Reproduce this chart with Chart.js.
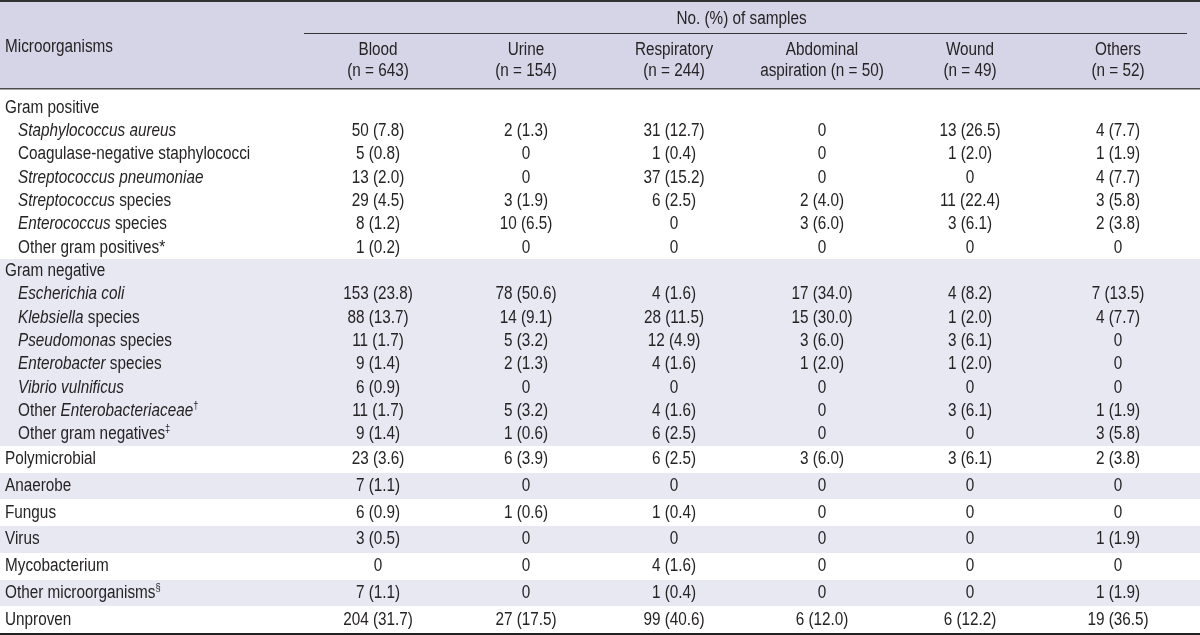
<!DOCTYPE html>
<html lang="en">
<head>
  <meta charset="UTF-8">
  <title>Microorganisms by sample type</title>
  <script src="https://cdn.jsdelivr.net/npm/chart.js"></script>
  <style>
    html, body {
      margin: 0;
      padding: 0;
      background: #ffffff;
    }

    #wrap {
      width: 1200px;
      height: 635px;
    }
  </style>
</head>
<body>

  <div id="wrap">
    <canvas id="tbl" width="1200" height="635"></canvas>
  </div>

  <script>
    // columns of the table (first one holds the row labels)
    const columns = ['label', 'blood', 'urine', 'respiratory', 'abdominal', 'wound', 'others'];
    const spanHeader = 'No. (%) of samples';
    const headerLine1 = ['Blood', 'Urine', 'Respiratory', 'Abdominal', 'Wound', 'Others'];
    const headerLine2 = ['(n = 643)', '(n = 154)', '(n = 244)', 'aspiration (n = 50)', '(n = 49)', '(n = 52)'];

    // _text_ = italic, ^text = superscript
    const rowLabels = [
      'Gram positive',
      '_Staphylococcus aureus_',
      'Coagulase-negative staphylococci',
      '_Streptococcus pneumoniae_',
      '_Streptococcus_ species',
      '_Enterococcus_ species',
      'Other gram positives*',
      'Gram negative',
      '_Escherichia coli_',
      '_Klebsiella_ species',
      '_Pseudomonas_ species',
      '_Enterobacter_ species',
      '_Vibrio vulnificus_',
      'Other _Enterobacteriaceae_^†',
      'Other gram negatives^‡',
      'Polymicrobial',
      'Anaerobe',
      'Fungus',
      'Virus',
      'Mycobacterium',
      'Other microorganisms^§',
      'Unproven'
    ];
    const rowKind = [
      'group', 'item', 'item', 'item', 'item', 'item', 'item',
      'group', 'item', 'item', 'item', 'item', 'item', 'item', 'item',
      'single', 'single', 'single', 'single', 'single', 'single', 'single'
    ];

    const blood = [null, '50 (7.8)', '5 (0.8)', '13 (2.0)', '29 (4.5)', '8 (1.2)', '1 (0.2)',
      null, '153 (23.8)', '88 (13.7)', '11 (1.7)', '9 (1.4)', '6 (0.9)', '11 (1.7)', '9 (1.4)',
      '23 (3.6)', '7 (1.1)', '6 (0.9)', '3 (0.5)', '0', '7 (1.1)', '204 (31.7)'];
    const urine = [null, '2 (1.3)', '0', '0', '3 (1.9)', '10 (6.5)', '0',
      null, '78 (50.6)', '14 (9.1)', '5 (3.2)', '2 (1.3)', '0', '5 (3.2)', '1 (0.6)',
      '6 (3.9)', '0', '1 (0.6)', '0', '0', '0', '27 (17.5)'];
    const respiratory = [null, '31 (12.7)', '1 (0.4)', '37 (15.2)', '6 (2.5)', '0', '0',
      null, '4 (1.6)', '28 (11.5)', '12 (4.9)', '4 (1.6)', '0', '4 (1.6)', '6 (2.5)',
      '6 (2.5)', '0', '1 (0.4)', '0', '4 (1.6)', '1 (0.4)', '99 (40.6)'];
    const abdominal = [null, '0', '0', '0', '2 (4.0)', '3 (6.0)', '0',
      null, '17 (34.0)', '15 (30.0)', '3 (6.0)', '1 (2.0)', '0', '0', '0',
      '3 (6.0)', '0', '0', '0', '0', '0', '6 (12.0)'];
    const wound = [null, '13 (26.5)', '1 (2.0)', '0', '11 (22.4)', '3 (6.1)', '0',
      null, '4 (8.2)', '1 (2.0)', '3 (6.1)', '1 (2.0)', '0', '3 (6.1)', '0',
      '3 (6.1)', '0', '0', '0', '0', '0', '6 (12.2)'];
    const others = [null, '4 (7.7)', '1 (1.9)', '4 (7.7)', '3 (5.8)', '2 (3.8)', '0',
      null, '7 (13.5)', '4 (7.7)', '0', '0', '0', '1 (1.9)', '3 (5.8)',
      '2 (3.8)', '0', '0', '1 (1.9)', '0', '1 (1.9)', '19 (36.5)'];

    const seriesByColumn = [blood, urine, respiratory, abdominal, wound, others];

    // no narrow face installed, so squeeze a regular sans horizontally
    const FONT = '"Liberation Sans", Arial, sans-serif';
    const SIZE = 18;
    const SUP_SIZE = 11;
    const SX = 0.85;
    const TEXT = '#262324';
    const HEADER_BG = '#d6d5e8';
    const BAND_BG = '#e8e8f3';

    // row extents in y-scale units (single rows are a bit taller)
    const rowStart = [];
    const rowEnd = [];
    let acc = 0.3;
    rowKind.forEach(k => {
      const h = k === 'single' ? 1.145 : 1;
      rowStart.push(acc);
      acc += h;
      rowEnd.push(acc);
    });
    const totalUnits = acc;

    // alternate shading by block (a group with its items, or a single row)
    const blocks = [];
    rowKind.forEach((k, i) => {
      if (k !== 'item') blocks.push({ first: i, last: i });
      else blocks[blocks.length - 1].last = i;
    });

    function parseRich(s) {
      const segs = [];
      let italic = false, sup = false, buf = '';
      for (const ch of s) {
        if (ch === '_' || ch === '^') {
          if (buf) segs.push({ text: buf, italic, sup });
          buf = '';
          if (ch === '_') italic = !italic; else sup = true;
        } else {
          buf += ch;
        }
      }
      if (buf) segs.push({ text: buf, italic, sup });
      return segs;
    }

    function squeezedText(ctx, text, x, y) {
      ctx.save();
      ctx.translate(x, y);
      ctx.scale(SX, 1);
      ctx.fillText(text, 0, 0);
      ctx.restore();
    }

    function drawRich(ctx, s, x, y) {
      ctx.textAlign = 'left';
      parseRich(s).forEach(seg => {
        ctx.font = (seg.italic ? 'italic ' : '') + (seg.sup ? SUP_SIZE : SIZE) + 'px ' + FONT;
        squeezedText(ctx, seg.text, x, seg.sup ? y - 5 : y);
        x += ctx.measureText(seg.text).width * SX;
      });
    }

    const tablePlugin = {
      id: 'tablePlugin',
      beforeDraw(chart) {
        const { ctx, width } = chart;
        const y = chart.scales.y;
        ctx.save();
        ctx.fillStyle = HEADER_BG;
        ctx.fillRect(0, 0, width, y.top);
        ctx.fillStyle = BAND_BG;
        blocks.forEach((b, n) => {
          if (n % 2 === 0) return;
          const top = Math.round(y.getPixelForValue(rowStart[b.first]));
          const bottom = Math.round(y.getPixelForValue(rowEnd[b.last]));
          ctx.fillRect(0, top, width, bottom - top);
        });
        ctx.restore();
      },
      afterDraw(chart) {
        const { ctx, width } = chart;
        const x = chart.scales.x;
        const y = chart.scales.y;
        ctx.save();
        ctx.fillStyle = TEXT;
        ctx.textBaseline = 'middle';

        // header
        drawRich(ctx, 'Microorganisms', 5, 47);
        ctx.font = SIZE + 'px ' + FONT;
        ctx.textAlign = 'center';
        const spanLeft = (x.getPixelForValue(0) + x.getPixelForValue(1)) / 2;
        const spanRight = x.right - 5;
        squeezedText(ctx, spanHeader, (spanLeft + spanRight) / 2 - 4, 19);
        headerLine1.forEach((t, i) => {
          const cx = x.getPixelForValue(i + 1);
          squeezedText(ctx, t, cx, 50);
          squeezedText(ctx, headerLine2[i], cx, 71);
        });

        // body
        rowLabels.forEach((label, i) => {
          const cy = y.getPixelForValue((rowStart[i] + rowEnd[i]) / 2);
          drawRich(ctx, label, rowKind[i] === 'item' ? 18 : 5, cy);
          ctx.font = SIZE + 'px ' + FONT;
          ctx.textAlign = 'center';
          seriesByColumn.forEach((series, c) => {
            if (series[i] == null) return;
            squeezedText(ctx, series[i], x.getPixelForValue(c + 1), cy);
          });
        });

        // rules
        ctx.fillStyle = '#333333';
        ctx.fillRect(0, 0, width, 2);
        ctx.fillRect(spanLeft, 33, spanRight - spanLeft, 1);
        ctx.fillStyle = '#4d4d4d';
        ctx.fillRect(0, y.top - 1, width, 1.5);
        ctx.fillStyle = '#222222';
        ctx.fillRect(0, y.bottom, width, 2);
        ctx.restore();
      }
    };

    new Chart(document.getElementById('tbl'), {
      type: 'scatter',
      data: {
        labels: columns,
        datasets: []
      },
      options: {
        responsive: false,
        animation: false,
        devicePixelRatio: 1,
        layout: {
          padding: { top: 89, bottom: 2, left: 156, right: 8 }
        },
        scales: {
          x: { type: 'category', offset: true, display: false },
          y: { type: 'linear', min: 0, max: totalUnits, reverse: true, display: false }
        },
        plugins: {
          legend: { display: false },
          tooltip: { enabled: false }
        }
      },
      plugins: [tablePlugin]
    });
  </script>
</body>
</html>
